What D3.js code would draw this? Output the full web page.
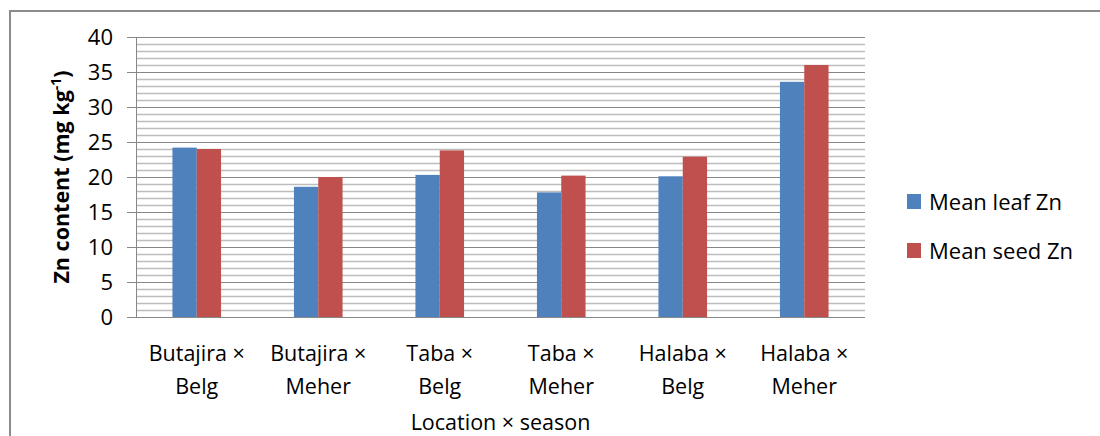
<!DOCTYPE html>
<html>
<head>
<meta charset="utf-8">
<script src="https://cdn.jsdelivr.net/npm/d3@7"></script>
<style>
  body { margin: 0; background: #fff; }
  text { font-family: "Open Sans", sans-serif; fill: #000; }
</style>
</head>
<body>
<svg width="1100" height="436"></svg>
<script>
// data
var categories = [
  ["Butajira \u00d7", "Belg"],
  ["Butajira \u00d7", "Meher"],
  ["Taba \u00d7", "Belg"],
  ["Taba \u00d7", "Meher"],
  ["Halaba \u00d7", "Belg"],
  ["Halaba \u00d7", "Meher"]
];
var seriesNames = ["Mean leaf Zn", "Mean seed Zn"];
var leafZn = [24.2, 18.6, 20.3, 17.8, 20.1, 33.6];
var seedZn = [24.0, 20.0, 23.8, 20.2, 22.9, 36.0];
var yTicks = [0, 5, 10, 15, 20, 25, 30, 35, 40];
var colors = ["#4f81bd", "#c0504d"];

function drawChart() {
  var svg = d3.select("svg");

  // outer chart border (runs off right and bottom)
  svg.append("rect")
      .attr("x", 10).attr("y", 11)
      .attr("width", 1200).attr("height", 600)
      .attr("fill", "none")
      .attr("stroke", "#8c8c8c")
      .attr("stroke-width", 2);

  var pLeft = 136, pRight = 865, pTop = 37, pBottom = 317;

  var x = d3.scaleBand()
      .domain(d3.range(categories.length))
      .range([pLeft, pRight])
      .paddingInner(0.6)
      .paddingOuter(0.3);

  var x1 = d3.scaleBand()
      .domain([0, 1])
      .range([0, x.bandwidth()]);

  var y = d3.scaleLinear().domain([0, 40]).range([pBottom, pTop]);

  // minor gridlines every 1 unit
  svg.append("g").selectAll("line")
      .data(d3.range(1, 40).filter(function(d) { return d % 5 != 0; }))
      .enter().append("line")
      .attr("x1", pLeft).attr("x2", pRight)
      .attr("y1", function(d) { return y(d) + 0.5; })
      .attr("y2", function(d) { return y(d) + 0.5; })
      .attr("stroke", "#bdbdbd")
      .attr("stroke-width", 1.3);

  // major gridlines + tick marks
  svg.append("g").selectAll("line")
      .data(yTicks)
      .enter().append("line")
      .attr("x1", pLeft - 9).attr("x2", pRight)
      .attr("y1", function(d) { return y(d) + 0.5; })
      .attr("y2", function(d) { return y(d) + 0.5; })
      .attr("stroke", "#878787")
      .attr("stroke-width", 1.2);

  // y axis line
  svg.append("line")
      .attr("x1", pLeft + 0.5).attr("x2", pLeft + 0.5)
      .attr("y1", pTop).attr("y2", pBottom)
      .attr("stroke", "#878787");

  // y tick labels
  svg.append("g").selectAll("text")
      .data(yTicks)
      .enter().append("text")
      .attr("x", 113)
      .attr("y", function(d) { return y(d) + 7.5; })
      .attr("text-anchor", "end")
      .style("font-size", "22px")
      .text(function(d) { return d; });

  // bars
  [leafZn, seedZn].forEach(function(vals, s) {
    svg.append("g").selectAll("rect")
        .data(vals)
        .enter().append("rect")
        .attr("x", function(d, i) { return x(i) + x1(s); })
        .attr("width", x1.bandwidth())
        .attr("y", function(d) { return y(d); })
        .attr("height", function(d) { return y(0) - y(d); })
        .attr("fill", colors[s]);
  });

  // category labels, two lines each
  var cat = svg.append("g").selectAll("text")
      .data(categories)
      .enter().append("text")
      .attr("text-anchor", "middle")
      .style("font-size", "21.5px");
  cat.append("tspan")
      .attr("x", function(d, i) { return x(i) + x.bandwidth() / 2; })
      .attr("y", 361)
      .text(function(d) { return d[0]; });
  cat.append("tspan")
      .attr("x", function(d, i) { return x(i) + x.bandwidth() / 2; })
      .attr("y", 394)
      .text(function(d) { return d[1]; });

  // x axis title
  svg.append("text")
      .attr("x", (pLeft + pRight) / 2)
      .attr("y", 430)
      .attr("text-anchor", "middle")
      .style("font-size", "21.5px")
      .text("Location \u00d7 season");

  // y axis title
  var yt = svg.append("text")
      .attr("transform", "translate(69," + ((pTop + pBottom) / 2) + ") rotate(-90)")
      .attr("text-anchor", "middle")
      .style("font-size", "21.5px")
      .style("font-weight", "bold");
  yt.append("tspan").text("Zn content (mg kg");
  yt.append("tspan").attr("dy", -8).style("font-size", "14px").text("-1");
  yt.append("tspan").attr("dy", 8).text(")");

  // legend
  var leg = svg.append("g").selectAll("g")
      .data(seriesNames)
      .enter().append("g")
      .attr("transform", function(d, i) { return "translate(907," + (194 + i * 49) + ")"; });
  leg.append("rect")
      .attr("width", 14).attr("height", 15)
      .attr("fill", function(d, i) { return colors[i]; });
  leg.append("text")
      .attr("x", 22).attr("y", 16)
      .style("font-size", "22px")
      .text(function(d) { return d; });
}

drawChart();
</script>
</body>
</html>
